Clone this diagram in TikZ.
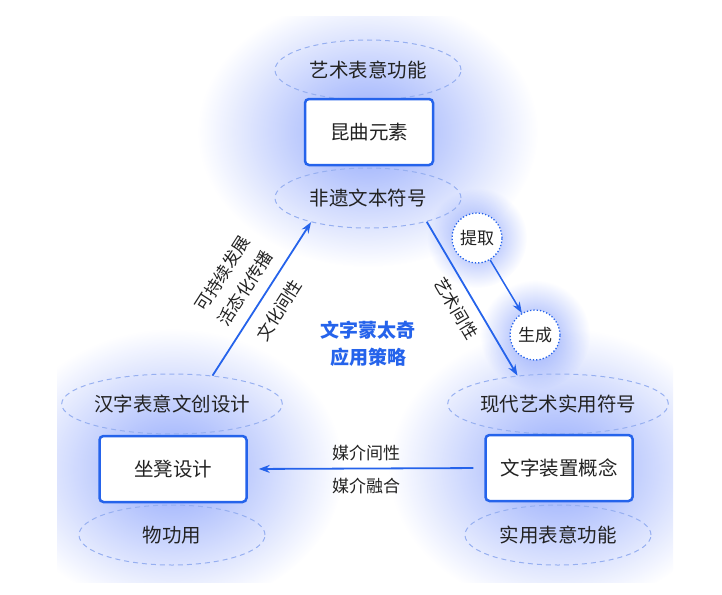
\documentclass[tikz,border=0pt]{standalone}
\usepackage{fontspec}
\setmainfont{Noto Sans CJK SC}
\usetikzlibrary{shapes.geometric,arrows.meta,fadings}

\definecolor{mainblue}{RGB}{37,99,235}
\definecolor{dashblue}{RGB}{150,175,240}
\definecolor{glowblue}{RGB}{85,120,250}
\definecolor{textgray}{RGB}{34,34,34}

\tikzfading[name=glowfade, inner color=transparent!35, outer color=transparent!100]

\begin{document}
\begin{tikzpicture}[x=1pt,y=-1pt, text=textgray, font=\fontsize{19.5}{23}\selectfont]

      \useasboundingbox (0,0) rectangle (722,594);

      % soft glow behind the three groups
      \begin{scope}
        \clip (57,17) rectangle (673,582);
        \fill[glowblue, path fading=glowfade] (368,132) ellipse (170 and 135);
        \fill[glowblue, path fading=glowfade] (173,469) ellipse (170 and 140);
        \fill[glowblue, path fading=glowfade] (559,468) ellipse (170 and 140);
        \fill[glowblue, path fading=glowfade] (477,238) ellipse (50 and 50);
        \fill[glowblue, path fading=glowfade] (535,335) ellipse (55 and 55);
      \end{scope}

      \begin{scope}[every node/.style={ellipse, draw=dashblue, dashed, dash pattern=on 5pt off 4pt,
          line width=1pt, minimum width=186pt, minimum height=60pt, inner sep=0pt}]
        \node (yishu)  at (368,70)  {艺术表意功能};
        \node (feiyi)  at (368,198) {非遗文本符号};
        \node (hanzi)  at (172,404) {汉字表意文创设计};
        \node (wugong) at (172,535) {物功用};
        \node (modern) at (558,404) {现代艺术实用符号};
        \node (shiyong) at (558,535) {实用表意功能};
      \end{scope}

      \begin{scope}[every node/.style={rectangle, rounded corners=4pt, draw=mainblue, line width=2.5pt,
          fill=white, minimum height=66pt}]
        \node[minimum width=128pt] (kunqu)  at (369,132) {昆曲元素};
        \node[minimum width=147pt] (seat)   at (173,469) {坐凳设计};
        \node[minimum width=147pt] (device) at (559,468) {文字装置概念};
      \end{scope}

      \begin{scope}[every node/.style={circle, draw=mainblue, dotted, line width=1.3pt, fill=white,
          minimum size=50pt, inner sep=0pt, font=\fontsize{17}{20}\selectfont}]
        \node (extract)  at (477,238) {提取};
        \node (generate) at (535,335) {生成};
      \end{scope}

      \node[text=mainblue, align=center, font=\fontsize{19}{27}\selectfont\bfseries] (title) at (368,344)
        {文字蒙太奇\\应用策略};

      \begin{scope}[every node/.style={inner sep=0pt, font=\fontsize{17}{22}\selectfont}]
        \begin{scope}[every edge/.style={draw=mainblue, line width=1.8pt, -{Stealth[length=11pt,width=8pt]}}]
          \path (hanzi.35) edge node[sloped, above=11pt, align=center] {可持续发展\\[5pt]活态化传播}
                                node[sloped, below=12pt] {文化间性} (feiyi.203);
          \path (feiyi.-22) edge node[sloped, below=10pt] {艺术间性} (modern.145);
          \path (device.west) edge[shorten <=11pt, shorten >=11pt] node[above=7pt] {媒介间性}
                                node[below=9pt] {媒介融合} (seat.east);
          \path (extract) edge[line width=1.5pt] (generate);
        \end{scope}
      \end{scope}

    \end{tikzpicture}
\end{document}
